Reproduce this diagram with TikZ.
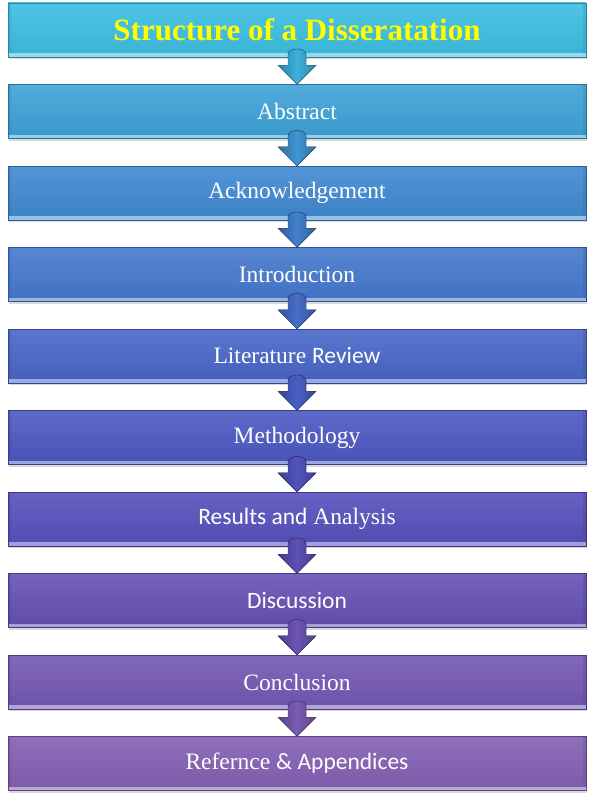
\documentclass[tikz,border=0pt]{standalone}
\usepackage{fontspec}
\setmainfont{Liberation Serif}
\newfontfamily\calibri{Carlito}
\usepackage{tikz}
\usetikzlibrary{positioning,shadows}
\definecolor{c1}{RGB}{60,190,225}
\definecolor{c2}{RGB}{62,162,216}
\definecolor{c3}{RGB}{64,137,210}
\definecolor{c4}{RGB}{68,120,205}
\definecolor{c5}{RGB}{72,102,200}
\definecolor{c6}{RGB}{76,88,194}
\definecolor{c7}{RGB}{86,80,188}
\definecolor{c8}{RGB}{101,81,180}
\definecolor{c9}{RGB}{116,87,180}
\definecolor{c10}{RGB}{131,96,180}
\definecolor{titleyellow}{RGB}{255,255,0}

\begin{document}
\begin{tikzpicture}[x=1pt,y=1pt,node distance=27pt,
		main node/.style={rectangle,minimum width=578pt,minimum height=54pt,inner sep=0pt,
			text=white,line width=0.5pt,font=\fontsize{23.5}{28}\selectfont},
		box/.style={main node,top color=#1!90!white,bottom color=#1!94!black,draw=#1!70!black,
			drop shadow={shadow xshift=0.5pt,shadow yshift=-2pt,opacity=0.3},
			path picture={
				\fill[#1!80!black,opacity=0.35] (path picture bounding box.south west) rectangle ([xshift=3pt]path picture bounding box.north west);
				\fill[#1!80!black,opacity=0.35] (path picture bounding box.south east) rectangle ([xshift=-3pt]path picture bounding box.north east);
				\fill[#1!55!white] (path picture bounding box.south west) rectangle ([yshift=4pt]path picture bounding box.south east);}},
		flow/.style={left color=#1!75!black,right color=#1!75!black,middle color=#1,draw=#1!55!black,line width=0.4pt}]
	\useasboundingbox (0,0) rectangle (595,-800);
	\node[box=c1,text=titleyellow,font=\fontsize{31}{36}\selectfont\bfseries] (1) at (297,-30) {Structure of a Disseratation};
	\node[box=c2] (2) [below=of 1] {Abstract};
	\node[box=c3] (3) [below=of 2] {Acknowledgement};
	\node[box=c4] (4) [below=of 3] {Introduction};
	\node[box=c5] (5) [below=of 4] {Literature {\calibri Review}};
	\node[box=c6] (6) [below=of 5] {Methodology};
	\node[box=c7] (7) [below=of 6] {{\calibri Results and} Analysis};
	\node[box=c8] (8) [below=of 7] {{\calibri Discussion}};
	\node[box=c9] (9) [below=of 8] {Conclusion};
	\node[box=c10] (10) [below=of 9] {Refernce {\calibri \&~Appendices}};
	% block arrows from box to box
	\foreach \i [evaluate=\i as \j using int(\i+1)] in {1,...,9}
	\filldraw[flow={c\i!50!c\j}] ([xshift=-9pt,yshift=3pt]\i.south) -- ([xshift=-9pt,yshift=-8pt]\i.south)
		-- ([xshift=-19pt,yshift=-8pt]\i.south) -- (\j.north) -- ([xshift=19pt,yshift=-8pt]\i.south)
		-- ([xshift=9pt,yshift=-8pt]\i.south) -- ([xshift=9pt,yshift=3pt]\i.south)
		.. controls +(0,7pt) and +(0,7pt) .. ([xshift=-9pt,yshift=3pt]\i.south) -- cycle;
\end{tikzpicture}
\end{document}
